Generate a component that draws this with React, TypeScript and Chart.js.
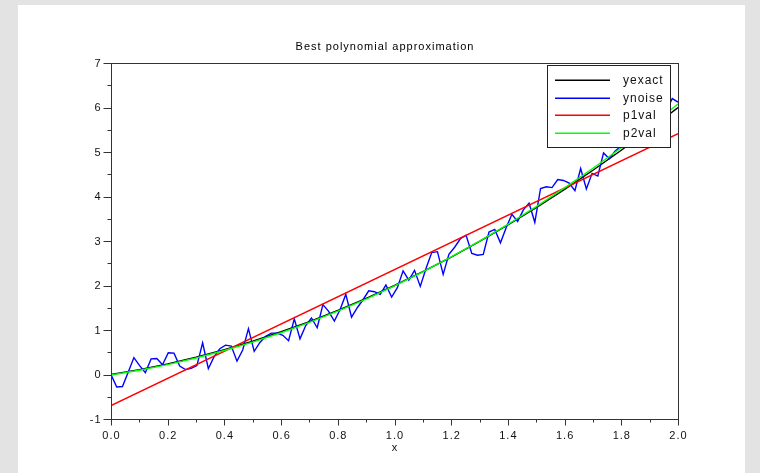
import React, { useEffect, useRef } from "react";
import { Chart, registerables } from "chart.js";

Chart.register(...registerables);

// Sample grid of the noisy measurements (100 points on [0, 2])
const xNoise = [
  0, 0.0202, 0.0404, 0.0606, 0.0808, 0.101, 0.1212, 0.1414, 0.1616, 0.1818,
  0.202, 0.2222, 0.2424, 0.2626, 0.2828, 0.303, 0.3232, 0.3434, 0.3636, 0.3838,
  0.404, 0.4242, 0.4444, 0.4646, 0.4848, 0.5051, 0.5253, 0.5455, 0.5657, 0.5859,
  0.6061, 0.6263, 0.6465, 0.6667, 0.6869, 0.7071, 0.7273, 0.7475, 0.7677, 0.7879,
  0.8081, 0.8283, 0.8485, 0.8687, 0.8889, 0.9091, 0.9293, 0.9495, 0.9697, 0.9899,
  1.0101, 1.0303, 1.0505, 1.0707, 1.0909, 1.1111, 1.1313, 1.1515, 1.1717, 1.1919,
  1.2121, 1.2323, 1.2525, 1.2727, 1.2929, 1.3131, 1.3333, 1.3535, 1.3737, 1.3939,
  1.4141, 1.4343, 1.4545, 1.4747, 1.4949, 1.5152, 1.5354, 1.5556, 1.5758, 1.596,
  1.6162, 1.6364, 1.6566, 1.6768, 1.697, 1.7172, 1.7374, 1.7576, 1.7778, 1.798,
  1.8182, 1.8384, 1.8586, 1.8788, 1.899, 1.9192, 1.9394, 1.9596, 1.9798, 2.0,
];

const yNoise = [
  0.0, -0.28, -0.27, 0.05, 0.38, 0.2, 0.04, 0.35, 0.36, 0.22,
  0.49, 0.48, 0.19, 0.11, 0.14, 0.2, 0.71, 0.13, 0.4, 0.58,
  0.66, 0.64, 0.3, 0.55, 1.03, 0.52, 0.72, 0.86, 0.93, 0.93,
  0.88, 0.76, 1.25, 0.8, 1.1, 1.27, 1.05, 1.57, 1.42, 1.2,
  1.46, 1.8, 1.29, 1.5, 1.68, 1.88, 1.86, 1.8, 2.01, 1.74,
  1.95, 2.33, 2.12, 2.34, 1.98, 2.38, 2.74, 2.76, 2.25, 2.7,
  2.86, 3.05, 3.13, 2.72, 2.68, 2.7, 3.2, 3.26, 2.96, 3.3,
  3.6, 3.44, 3.7, 3.85, 3.42, 4.18, 4.22, 4.2, 4.38, 4.36,
  4.3, 4.13, 4.63, 4.17, 4.52, 4.46, 4.98, 4.85, 5.02, 5.13,
  5.25, 5.28, 5.45, 5.38, 5.62, 5.7, 5.65, 5.95, 6.2, 6.12,
];

// Smooth curves sampled every 0.1
const xSmooth = [
  0, 0.1, 0.2, 0.3, 0.4, 0.5, 0.6, 0.7, 0.8, 0.9, 1.0,
  1.1, 1.2, 1.3, 1.4, 1.5, 1.6, 1.7, 1.8, 1.9, 2.0,
];
const yExact = [
  0, 0.11, 0.24, 0.39, 0.56, 0.75, 0.96, 1.19, 1.44, 1.71, 2.0,
  2.31, 2.64, 2.99, 3.36, 3.75, 4.16, 4.59, 5.04, 5.51, 6.0,
];
const p2Val = [
  -0.01, 0.096, 0.223, 0.371, 0.539, 0.729, 0.939, 1.171, 1.423, 1.696, 1.99,
  2.305, 2.641, 2.998, 3.375, 3.774, 4.193, 4.634, 5.095, 5.577, 6.08,
];

// Straight-line fit, end points
const xLine = [0, 2];
const p1Val = [-0.7, 5.41];

const xTicks = [0, 0.2, 0.4, 0.6, 0.8, 1.0, 1.2, 1.4, 1.6, 1.8, 2.0];
const xTickLabels = ["0.0", "0.2", "0.4", "0.6", "0.8", "1.0", "1.2", "1.4", "1.6", "1.8", "2.0"];
const yTicks = [-1, 0, 1, 2, 3, 4, 5, 6, 7];
const yTickLabels = ["-1", "0", "1", "2", "3", "4", "5", "6", "7"];

const seriesNames = ["yexact", "ynoise", "p1val", "p2val"];
const seriesColors = ["#000000", "#0000ff", "#ff0000", "#00ff00"];

const titleText = "Best polynomial approximation";
const xAxisTitle = "x";

const FONT = '"Liberation Sans", Arial, sans-serif';

const pts = (xs: number[], ys: number[]) => xs.map((x, i) => ({ x, y: ys[i] }));

// Axes box, ticks, labels, title and the in-plot legend
const framePlugin = {
  id: "scilabFrame",
  afterDraw(chart: any) {
    const { ctx, chartArea: a, scales } = chart;
    const sx = scales.x;
    const sy = scales.y;
    const L = Math.round(a.left) + 0.5;
    const R = Math.round(a.right) + 0.5;
    const T = Math.round(a.top) + 0.5;
    const B = Math.round(a.bottom) + 0.5;

    ctx.save();
    ctx.lineWidth = 1;
    ctx.strokeStyle = "#333333";
    ctx.strokeRect(L, T, R - L, B - T);

    // x ticks (major + minor midway)
    ctx.beginPath();
    xTicks.forEach((v, i) => {
      const px = Math.round(sx.getPixelForValue(v)) + 0.5;
      ctx.moveTo(px, B);
      ctx.lineTo(px, B + 6);
      if (i < xTicks.length - 1) {
        const m = Math.round(sx.getPixelForValue((v + xTicks[i + 1]) / 2)) + 0.5;
        ctx.moveTo(m, B);
        ctx.lineTo(m, B + 3);
      }
    });
    // y ticks
    yTicks.forEach((v, i) => {
      const py = Math.round(sy.getPixelForValue(v)) + 0.5;
      ctx.moveTo(L, py);
      ctx.lineTo(L - 8, py);
      if (i < yTicks.length - 1) {
        const m = Math.round(sy.getPixelForValue((v + yTicks[i + 1]) / 2)) + 0.5;
        ctx.moveTo(L, m);
        ctx.lineTo(L - 4, m);
      }
    });
    ctx.stroke();

    // tick labels
    ctx.fillStyle = "#111111";
    ctx.font = `11px ${FONT}`;
    (ctx as any).letterSpacing = "1px";
    ctx.textAlign = "center";
    ctx.textBaseline = "middle";
    xTicks.forEach((v, i) => {
      ctx.fillText(xTickLabels[i], sx.getPixelForValue(v) + 0.5, B + 16);
    });
    ctx.textAlign = "right";
    yTicks.forEach((v, i) => {
      ctx.fillText(yTickLabels[i], L - 10, sy.getPixelForValue(v) + 0.5);
    });

    // titles
    ctx.textAlign = "center";
    ctx.fillText(xAxisTitle, (L + R) / 2, B + 28);
    ctx.fillStyle = "#000000";
    ctx.fillText(titleText, 385, 47);

    // legend box
    const bx = 547.5;
    const by = 65.5;
    const bw = 123;
    const bh = 82;
    ctx.fillStyle = "#ffffff";
    ctx.fillRect(bx, by, bw, bh);
    ctx.strokeStyle = "#222222";
    ctx.strokeRect(bx, by, bw, bh);
    ctx.textAlign = "left";
    ctx.font = `12px ${FONT}`;
    seriesNames.forEach((name, i) => {
      const ry = 80 + i * 17.7;
      ctx.fillStyle = seriesColors[i];
      ctx.fillRect(555, Math.round(ry) - 0.5, 55, 1.5);
      ctx.fillStyle = "#111111";
      ctx.fillText(name, 623, ry + 0.5);
    });
    ctx.restore();
  },
};

export default function App() {
  const ref = useRef<HTMLCanvasElement | null>(null);

  useEffect(() => {
    if (!ref.current) return;
    const line = (label: string, data: any[], color: string, order: number) => ({
      label,
      data,
      borderColor: color,
      backgroundColor: color,
      borderWidth: 1.4,
      pointRadius: 0,
      showLine: true,
      tension: 0,
      fill: false,
      order,
    });
    const chart = new Chart(ref.current, {
      type: "scatter",
      data: {
        datasets: [
          line(seriesNames[0], pts(xSmooth, yExact), seriesColors[0], 4),
          line(seriesNames[1], pts(xNoise, yNoise), seriesColors[1], 3),
          line(seriesNames[2], pts(xLine, p1Val), seriesColors[2], 2),
          line(seriesNames[3], pts(xSmooth, p2Val), seriesColors[3], 1),
        ],
      },
      options: {
        animation: false,
        responsive: false,
        maintainAspectRatio: false,
        devicePixelRatio: 1,
        layout: { padding: { left: 111, right: 82, top: 63, bottom: 54 } },
        scales: {
          x: { type: "linear", min: 0, max: 2, display: false },
          y: { type: "linear", min: -1, max: 7, display: false },
        },
        plugins: {
          legend: { display: false },
          tooltip: { enabled: false },
          title: { display: false },
        },
      },
      plugins: [framePlugin],
    });
    return () => chart.destroy();
  }, []);

  return (
    <div
      style={{
        position: "fixed",
        left: 0,
        top: 0,
        width: 760,
        height: 473,
        background: "#e3e3e3",
        overflow: "hidden",
      }}
    >
      <div
        style={{
          position: "absolute",
          left: 18,
          top: 5,
          width: 727,
          height: 468,
          background: "#ffffff",
        }}
      />
      <canvas
        ref={ref}
        width={760}
        height={473}
        style={{ position: "absolute", left: 0, top: 0 }}
      />
    </div>
  );
}
